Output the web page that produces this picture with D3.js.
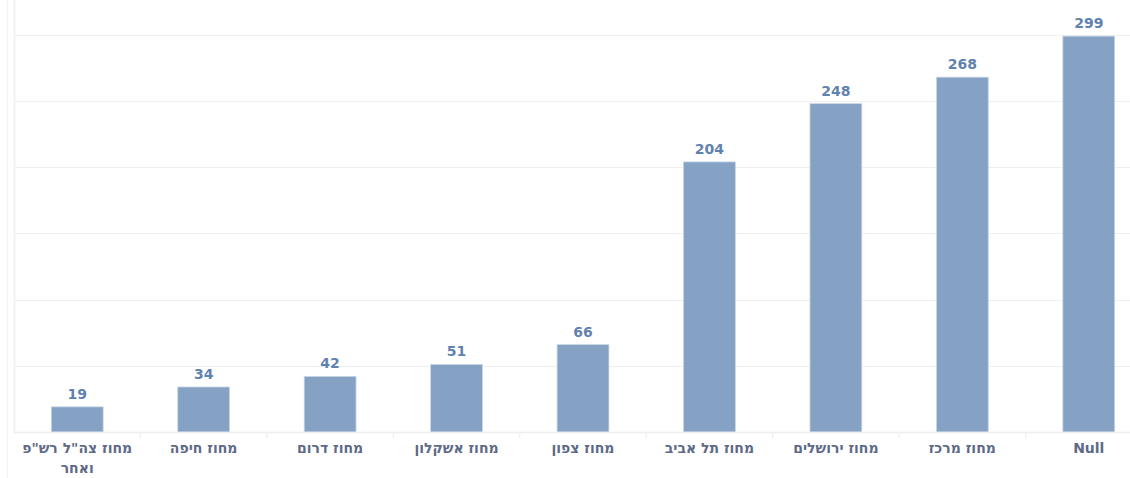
<!DOCTYPE html>
<html>
<head>
<meta charset="utf-8">
<script src="https://cdn.jsdelivr.net/npm/d3@7/dist/d3.min.js"></script>
<style>
  body { margin: 0; background: #ffffff; overflow: hidden; }
  svg { display: block; }
</style>
</head>
<body>
<svg id="chart" width="1130" height="478"></svg>
<script>
// data, left to right as in the picture
var categories = ['מחוז צה"ל רש"פ ואחר', 'מחוז חיפה', 'מחוז דרום', 'מחוז אשקלון', 'מחוז צפון',
                  'מחוז תל אביב', 'מחוז ירושלים', 'מחוז מרכז', 'Null'];
var values = [19, 34, 42, 51, 66, 204, 248, 268, 299];
var gridTicks = [50, 100, 150, 200, 250, 300];

var width = 1130;
var height = 478;
// the plot runs a little past the right edge of the window
var margin = {top: 0, bottom: 46, left: 14};
var plotRight = 1152;

var svg = d3.select('#chart');

var x = d3.scaleBand()
    .domain(categories)
    .range([margin.left, plotRight])
    .paddingInner(0.59)
    .paddingOuter(0.295);

var y = d3.scaleLinear()
    .domain([0, 300])
    .range([height - margin.bottom, 34.8]);

// faint left rules
svg.append('line').attr('x1', 7.5).attr('x2', 7.5).attr('y1', 0).attr('y2', height)
    .attr('stroke', '#f3f3f3').attr('stroke-width', 1);
svg.append('line').attr('x1', margin.left + 0.5).attr('x2', margin.left + 0.5).attr('y1', 0).attr('y2', y(0))
    .attr('stroke', '#efefef').attr('stroke-width', 1.5);

// gridlines
svg.append('g')
    .selectAll('line')
    .data(gridTicks)
    .enter()
    .append('line')
    .attr('x1', margin.left).attr('x2', width)
    .attr('y1', function (d) { return Math.round(y(d)) + 0.5; })
    .attr('y2', function (d) { return Math.round(y(d)) + 0.5; })
    .attr('stroke', '#efefef')
    .attr('stroke-width', 1.2);

// bars
svg.append('g')
    .selectAll('rect')
    .data(values)
    .enter()
    .append('rect')
    .attr('x', function (d, i) { return x(categories[i]); })
    .attr('y', function (d) { return y(d); })
    .attr('width', x.bandwidth())
    .attr('height', function (d) { return y(0) - y(d); })
    .attr('fill', '#85a2c5')
    .attr('stroke', '#c9d6e6')
    .attr('stroke-width', 0.8);

// value labels
svg.append('g')
    .selectAll('text')
    .data(values)
    .enter()
    .append('text')
    .attr('x', function (d, i) { return x(categories[i]) + x.bandwidth() / 2; })
    .attr('y', function (d) { return y(d) - 8; })
    .attr('text-anchor', 'middle')
    .attr('font-family', 'DejaVu Sans, sans-serif')
    .attr('font-weight', 'bold')
    .attr('font-size', '14px')
    .attr('fill', '#5f82b0')
    .text(function (d) { return d; });

// x axis: baseline, separators, labels
var axisY = y(0);
svg.append('line').attr('x1', margin.left).attr('x2', width)
    .attr('y1', axisY + 0.5).attr('y2', axisY + 0.5)
    .attr('stroke', '#eeeeee').attr('stroke-width', 1.5);

var step = x.step();
svg.append('g')
    .selectAll('line')
    .data(categories.slice(1))
    .enter()
    .append('line')
    .attr('x1', function (d) { return x(d) - (step - x.bandwidth()) / 2; })
    .attr('x2', function (d) { return x(d) - (step - x.bandwidth()) / 2; })
    .attr('y1', axisY).attr('y2', axisY + 6)
    .attr('stroke', '#eeeeee').attr('stroke-width', 1.2);

var labels = svg.append('g')
    .selectAll('text')
    .data(categories)
    .enter()
    .append('text')
    .attr('x', function (d) { return x(d) + x.bandwidth() / 2; })
    .attr('y', axisY + 21)
    .attr('text-anchor', 'middle')
    .attr('font-family', 'DejaVu Sans, sans-serif')
    .attr('font-size', '14px')
    .attr('fill', '#5e6a86')
    .attr('font-weight', 'bold');

labels.each(function (d) {
    var t = d3.select(this);
    // first label is wrapped on two lines
    if (d === categories[0]) {
        t.append('tspan').attr('x', t.attr('x')).attr('dy', 0).text('מחוז צה"ל רש"פ');
        t.append('tspan').attr('x', t.attr('x')).attr('dy', 20).text('ואחר');
    } else {
        t.text(d);
    }
});
</script>
</body>
</html>
